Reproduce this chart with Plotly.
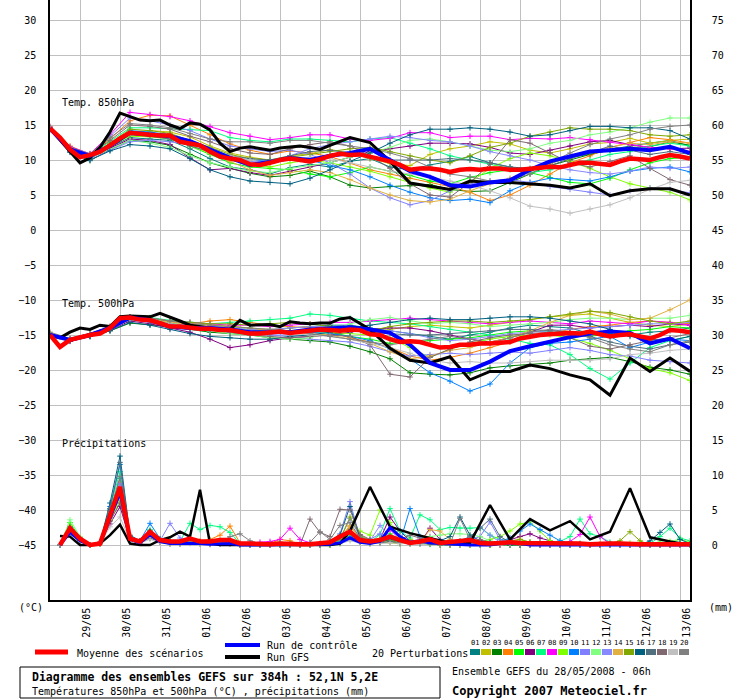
import plotly.graph_objects as go

# hours since run start (28/05/2008 06h)
H6 = list(range(0, 385, 6))
H12 = list(range(0, 385, 12))
H6P = list(range(6, 385, 6))
GFS_H = list(range(0, 181, 6)) + list(range(192, 385, 12))
GFS_HP = list(range(6, 181, 6)) + list(range(192, 385, 12))

DAY_TICKS = list(range(18, 385, 24))
DAY_LABELS = ["29/05", "30/05", "31/05", "01/06", "02/06", "03/06", "04/06", "05/06",
              "06/06", "07/06", "08/06", "09/06", "10/06", "11/06", "12/06", "13/06"]

PERT_COLORS = ["#008080", "#c0c000", "#008000", "#ff8000", "#00ff00", "#800080", "#00ff80",
               "#ff00ff", "#80ff00", "#0080ff", "#8080ff", "#80ff80", "#8888ff", "#e0b040",
               "#80a800", "#006080", "#507080", "#806870", "#c0c0c0", "#808080"]

# ensemble mean (6h)
MEAN_850 = [14.5, 13.2, 11.5, 10.4, 10.7, 11.2, 12.1, 13.1, 13.9, 13.7, 13.6, 13.5, 13.5,
            12.6, 12.4, 12.1, 11.2, 10.5, 10.2, 10.0, 9.4, 9.3, 9.6, 10.0, 10.2, 10.0,
            9.8, 10.1, 10.6, 10.9, 10.7, 10.8, 10.5, 10.1, 9.8, 9.3, 8.6, 8.8, 8.8, 8.6,
            8.3, 8.6, 8.7, 8.6, 8.8, 8.8, 8.6, 8.6, 8.7, 8.95, 9.05, 8.95, 9.3, 9.6, 9.6,
            9.5, 9.3, 9.8, 10.2, 10.1, 10.0, 10.4, 10.7, 10.5, 10.2]
MEAN_500 = [-15.0, -16.7, -15.7, -15.3, -15.0, -14.8, -14.0, -12.6, -12.5, -12.8, -12.9,
            -13.3, -13.8, -13.8, -14.0, -14.1, -14.1, -14.3, -14.3, -14.5, -14.8, -14.8,
            -14.7, -14.5, -14.7, -14.5, -14.3, -14.2, -14.3, -14.4, -14.2, -14.3, -14.9,
            -15.0, -15.6, -16.0, -15.9, -16.0, -16.4, -16.8, -16.7, -16.4, -16.4, -16.2,
            -16.2, -16.1, -16.0, -15.5, -15.2, -15.0, -14.9, -14.8, -14.7, -14.8, -14.5,
            -14.9, -15.2, -15.0, -14.9, -15.2, -15.5, -15.0, -14.3, -14.4, -14.6]
MEAN_PR = [0, 2.4, 0.9, 0, 0.2, 4.5, 8.3, 0.9, 0.5, 1.9, 0.7, 0.5, 0.5, 0.9, 0.5, 0.5,
           0.7, 0.7, 0.2, 0.2, 0.1, 0.1, 0.2, 0.1, 0.1, 0.1, 0.2, 0.4, 1.2, 1.9, 0.7, 0.5,
           0.7, 1.2, 0.7, 0.3, 0.5, 0.8, 0.3, 0.4, 0.5, 0.7, 0.3, 0.2, 0.3, 0.4, 0.3, 0.3,
           0.2, 0.2, 0.2, 0.3, 0.2, 0.1, 0.2, 0.2, 0.2, 0.1, 0.1, 0.1, 0.1, 0.2, 0.1, 0.1]

# control run (12h temps, 6h precip)
CTRL_850 = [14.5, 11.5, 10.6, 12.0, 13.9, 13.7, 13.4, 12.7, 11.5, 10.3, 9.3, 9.7, 10.3,
            10.0, 10.6, 11.0, 11.6, 10.0, 8.4, 7.6, 6.4, 6.2, 6.8, 7.1, 8.6, 9.8, 10.5,
            11.2, 11.4, 11.6, 11.4, 11.9, 11.0]
CTRL_500 = [-15.0, -15.7, -15.0, -14.0, -12.5, -12.9, -13.8, -14.0, -14.0, -14.2, -14.6,
            -14.6, -14.6, -14.2, -14.0, -13.9, -14.2, -14.7, -16.4, -19.0, -20.0, -20.0,
            -18.8, -17.3, -16.6, -15.9, -15.3, -14.8, -14.5, -14.7, -16.2, -15.5, -16.9]
CTRL_PR = [0, 1.8, 0.6, 0, 0.2, 4.0, 7.5, 0.8, 0.3, 1.5, 0.5, 0.2, 0.2, 0.3, 0.2, 0.1,
           0.2, 0.2, 0, 0, 0, 0, 0, 0, 0, 0, 0, 0.1, 0.3, 1.0, 0.4, 0.2,
           0.5, 2.5, 1.2, 0.4, 0.6, 0.3, 0.2, 0.1, 0, 0, 0, 0, 0.2, 0.3, 0.2, 0,
           0, 0, 0, 0, 0, 0, 0, 0, 0, 0, 0, 0, 0, 0, 0, 0]

# GFS operational run (6h to 180h, then 12h)
GFS_850 = [14.5, 12.8, 11.2, 9.6, 10.3, 11.8, 14.0, 16.7, 16.2, 15.7, 15.6, 15.7, 15.0,
           14.5, 15.3, 15.1, 14.3, 12.4, 11.2, 11.7, 11.9, 11.7, 11.4, 11.7, 11.9, 12.0,
           11.8, 11.5, 12.1, 12.6, 13.2,
           12.5, 9.8, 6.7, 6.2, 5.8, 7.0, 6.8, 6.8, 6.6, 6.4, 6.0, 6.6, 4.9, 5.6, 5.9, 5.9, 5.0]
GFS_500 = [-15.0, -15.4, -14.6, -14.0, -14.2, -13.6, -13.8, -12.4, -12.3, -12.3, -12.4,
           -11.9, -12.4, -13.0, -13.6, -13.8, -14.0, -14.2, -14.2, -12.9, -13.6, -13.5,
           -13.5, -13.8, -13.1, -13.3, -13.4, -13.3, -13.3, -12.7, -12.5,
           -14.2, -16.9, -18.6, -19.0, -18.1, -21.4, -20.2, -20.2, -19.3, -19.8, -20.7,
           -21.4, -23.6, -18.3, -20.2, -18.3, -20.2]
GFS_PR = [1.3, 1.2, 0, 0, 0.2, 1.4, 2.9, 0.2, 0, 0, 0.7, 1.1, 1.9, 1.2, 7.9, 0.2, 0, 0,
          0, 0, 0, 0, 0, 0, 0, 0, 0, 0, 0.2, 2.0,
          8.3, 2.6, 1.7, 1.0, 0.3, 0.3, 5.7, 0.8, 3.7, 2.1, 3.4, 0.8, 1.9, 8.1, 1.1, 0.5, 0]

# 20 perturbations, 850 hPa (12h)
PERT_850 = [
    [14.5, 11.4, 10.5, 11.8, 13.2, 13.0, 12.8, 11.6, 10.2, 9.0, 8.6, 8.0, 8.9, 9.4, 9.0, 9.8, 10.2, 9.0, 8.6, 9.3, 9.8, 10.5, 9.6, 9.0, 8.8, 9.5, 10.4, 10.8, 11.5, 12.0, 12.4, 12.8, 12.0],
    [14.6, 11.8, 10.4, 12.3, 14.0, 14.2, 14.0, 13.3, 12.0, 11.0, 10.4, 10.0, 10.6, 10.9, 11.5, 11.0, 10.2, 9.5, 9.2, 10.8, 11.6, 12.0, 12.6, 12.3, 11.4, 11.0, 11.6, 12.3, 12.5, 13.1, 12.4, 12.8, 13.0],
    [14.4, 11.2, 9.9, 11.5, 12.8, 12.6, 12.1, 10.8, 9.6, 8.8, 8.1, 7.6, 7.8, 8.4, 7.6, 6.4, 6.0, 6.2, 6.3, 6.5, 5.8, 5.5, 5.6, 6.8, 8.0, 9.2, 10.0, 10.8, 11.4, 11.8, 11.9, 12.6, 12.1],
    [14.8, 12.0, 10.8, 13.0, 15.6, 16.4, 16.3, 15.0, 13.6, 12.3, 11.4, 10.8, 11.3, 11.0, 10.5, 9.6, 8.6, 8.0, 7.4, 6.8, 6.2, 5.4, 4.2, 5.0, 6.4, 8.0, 9.6, 10.6, 11.8, 12.5, 13.2, 12.9, 12.4],
    [14.5, 11.6, 10.6, 12.0, 13.6, 13.5, 13.2, 12.0, 10.8, 9.6, 9.0, 8.8, 8.6, 8.0, 7.6, 8.2, 9.0, 8.4, 7.8, 7.0, 6.6, 7.5, 8.2, 8.6, 8.2, 7.5, 6.8, 6.6, 7.4, 8.6, 9.6, 10.2, 10.4],
    [14.4, 11.3, 10.2, 11.7, 13.0, 12.8, 12.2, 10.3, 8.6, 8.8, 8.2, 7.8, 8.4, 9.0, 9.6, 10.4, 11.2, 11.6, 12.0, 12.4, 12.4, 12.3, 11.8, 11.0, 10.8, 11.4, 12.0, 12.6, 12.8, 12.2, 11.8, 11.6, 11.7],
    [14.6, 11.7, 10.7, 12.6, 14.6, 14.6, 14.5, 14.4, 14.2, 13.2, 12.8, 12.6, 13.0, 13.0, 12.8, 12.6, 13.0, 13.2, 12.4, 11.6, 10.6, 10.0, 9.4, 8.8, 8.2, 8.6, 9.4, 10.0, 10.8, 11.2, 12.0, 12.4, 12.0],
    [14.7, 11.9, 10.9, 13.6, 16.8, 16.5, 16.2, 15.6, 14.8, 13.9, 13.4, 12.9, 13.2, 13.6, 13.6, 13.0, 12.8, 13.1, 13.9, 13.9, 13.2, 13.4, 13.4, 12.9, 13.1, 13.0, 13.2, 12.9, 12.6, 12.2, 11.8, 11.6, 11.2],
    [14.5, 11.5, 10.4, 11.9, 13.4, 13.3, 13.0, 12.0, 11.0, 10.0, 9.4, 9.0, 9.6, 10.0, 9.6, 9.0, 8.4, 7.6, 6.8, 6.0, 5.4, 6.8, 8.8, 10.2, 11.0, 10.6, 9.8, 8.8, 7.6, 6.6, 6.0, 5.4, 4.3],
    [14.5, 11.5, 10.5, 12.2, 14.2, 14.0, 13.6, 12.6, 11.6, 10.6, 10.0, 9.8, 10.4, 10.0, 9.2, 8.6, 7.6, 6.4, 5.4, 4.6, 4.2, 4.4, 3.9, 5.6, 6.8, 7.4, 7.2, 7.0, 7.6, 8.4, 8.8, 9.0, 8.3],
    [14.6, 11.6, 10.6, 13.4, 16.0, 15.6, 15.0, 14.2, 13.0, 12.0, 11.6, 11.2, 11.4, 10.8, 9.6, 8.0, 6.0, 4.6, 3.6, 4.2, 5.6, 6.6, 7.0, 7.2, 6.8, 6.2, 5.8, 5.4, 5.0, 5.6, 6.0, 5.8, 5.3],
    [14.5, 11.4, 10.3, 11.6, 12.8, 12.4, 11.8, 10.6, 9.6, 9.0, 8.4, 8.2, 8.8, 9.2, 9.6, 10.4, 11.0, 11.8, 12.8, 13.0, 12.6, 12.0, 11.4, 11.2, 11.6, 12.4, 12.8, 13.6, 14.0, 14.6, 15.4, 16.0, 16.0],
    [14.3, 11.2, 10.0, 11.4, 12.6, 12.8, 12.6, 12.2, 11.4, 10.4, 9.8, 9.8, 10.6, 11.6, 12.2, 12.6, 13.0, 13.4, 13.2, 12.8, 12.6, 12.0, 11.2, 10.6, 10.0, 9.2, 8.6, 8.2, 8.0, 8.4, 9.0, 8.8, 9.0],
    [14.5, 11.5, 10.5, 12.0, 13.8, 13.6, 13.2, 12.2, 11.0, 9.8, 8.6, 7.8, 8.2, 8.6, 8.2, 7.2, 6.0, 5.0, 4.2, 4.0, 4.4, 5.6, 6.6, 7.4, 8.4, 9.4, 10.6, 11.2, 11.8, 12.4, 12.2, 12.6, 12.4],
    [14.5, 11.6, 10.6, 12.4, 14.4, 14.2, 13.8, 12.8, 11.8, 10.8, 10.2, 10.0, 10.4, 10.8, 11.2, 11.6, 11.8, 11.2, 10.6, 10.0, 9.6, 10.6, 11.8, 12.4, 13.4, 14.0, 14.6, 14.4, 14.4, 14.2, 13.6, 13.4, 13.6],
    [14.4, 11.1, 10.0, 11.3, 12.2, 12.0, 11.6, 10.2, 8.6, 7.6, 7.0, 6.8, 6.6, 7.4, 8.6, 9.8, 11.0, 12.4, 13.6, 14.4, 14.4, 14.6, 14.4, 14.0, 13.4, 13.6, 14.2, 14.8, 14.8, 14.6, 14.6, 14.2, 13.0],
    [14.5, 11.5, 10.5, 12.1, 13.6, 13.4, 13.0, 12.0, 11.2, 10.6, 10.2, 10.0, 10.6, 11.2, 11.4, 11.0, 10.4, 10.0, 10.0, 10.0, 10.2, 10.0, 9.6, 9.0, 8.6, 9.2, 10.2, 11.0, 12.0, 11.4, 10.8, 11.2, 10.8],
    [14.6, 11.7, 10.8, 12.8, 15.0, 14.8, 14.4, 13.4, 12.6, 11.6, 11.0, 10.8, 11.6, 12.2, 12.6, 12.0, 10.6, 8.8, 6.6, 5.0, 4.7, 6.8, 9.4, 12.9, 12.4, 11.0, 9.6, 9.0, 9.8, 10.6, 8.8, 7.2, 6.4],
    [14.5, 11.5, 10.4, 12.0, 13.8, 13.6, 13.4, 12.6, 11.6, 10.6, 10.0, 9.6, 10.0, 10.4, 10.2, 9.6, 9.0, 8.4, 8.0, 7.6, 7.0, 6.4, 5.6, 4.6, 3.4, 3.0, 2.4, 3.0, 3.6, 4.6, 5.8, 6.8, 7.1],
    [14.6, 11.8, 10.9, 13.2, 15.2, 15.0, 14.6, 13.8, 13.0, 12.6, 12.6, 12.4, 12.8, 12.8, 12.4, 12.0, 11.6, 11.0, 10.2, 9.0, 8.0, 7.6, 7.0, 7.2, 8.0, 9.6, 11.0, 12.2, 13.0, 13.6, 14.4, 14.8, 15.0],
]

# 20 perturbations, 500 hPa (12h)
PERT_500 = [
    [-15.0, -15.6, -15.0, -14.0, -12.6, -13.0, -13.6, -14.0, -14.0, -14.2, -14.4, -14.4, -14.0, -13.8, -13.6, -13.6, -14.0, -14.4, -14.8, -15.2, -15.6, -15.0, -14.6, -14.0, -13.6, -13.8, -14.0, -14.8, -15.2, -15.0, -14.6, -14.4, -14.0],
    [-15.0, -15.8, -15.0, -14.0, -12.5, -12.8, -13.4, -13.6, -13.5, -13.8, -14.0, -14.2, -14.0, -13.8, -14.0, -14.4, -14.6, -14.2, -13.8, -13.6, -13.8, -14.0, -13.6, -13.2, -12.8, -12.4, -12.2, -12.0, -12.6, -13.2, -13.6, -13.8, -13.4],
    [-14.9, -15.8, -15.2, -14.4, -13.3, -13.5, -13.8, -14.2, -14.6, -14.8, -15.0, -15.4, -15.6, -15.8, -16.0, -16.6, -17.4, -18.4, -20.4, -20.6, -20.7, -20.4, -19.7, -19.4, -19.2, -19.0, -18.6, -18.4, -18.2, -18.8, -19.6, -20.0, -20.6],
    [-15.0, -15.6, -14.8, -13.8, -12.4, -12.6, -13.2, -13.4, -13.0, -12.8, -13.2, -13.6, -13.8, -14.0, -14.6, -15.4, -16.0, -16.8, -18.0, -18.6, -18.2, -17.6, -16.8, -16.0, -15.2, -14.8, -14.2, -13.8, -13.6, -13.2, -13.0, -13.2, -13.4],
    [-15.0, -15.7, -15.0, -14.0, -12.6, -12.9, -13.6, -13.8, -14.0, -14.2, -14.4, -14.6, -14.4, -14.2, -14.6, -15.2, -15.6, -16.2, -16.0, -15.8, -15.6, -15.4, -15.0, -14.6, -14.4, -14.6, -15.0, -15.2, -14.8, -14.4, -14.2, -13.8, -14.0],
    [-15.0, -15.9, -15.2, -14.3, -13.0, -13.4, -14.0, -14.6, -15.6, -16.8, -16.4, -15.8, -15.4, -15.2, -15.0, -14.6, -14.2, -14.0, -14.0, -14.4, -15.0, -15.6, -16.0, -15.4, -14.6, -13.6, -13.6, -14.0, -13.8, -13.6, -13.8, -13.4, -13.6],
    [-15.0, -15.6, -14.9, -13.8, -12.4, -12.5, -12.9, -13.2, -13.4, -13.2, -13.0, -12.8, -12.6, -12.0, -12.2, -12.6, -13.0, -13.2, -13.4, -13.8, -14.2, -14.6, -15.0, -15.6, -16.2, -16.4, -17.8, -19.8, -21.3, -19.0, -16.8, -15.8, -15.2],
    [-15.0, -15.6, -14.9, -13.8, -12.4, -12.6, -13.0, -13.2, -13.4, -13.6, -13.6, -13.8, -13.6, -13.4, -13.2, -13.2, -13.0, -12.8, -12.6, -12.8, -13.0, -13.2, -13.4, -13.2, -13.0, -13.2, -13.4, -13.0, -13.2, -13.4, -13.0, -13.2, -13.6],
    [-15.0, -15.7, -15.0, -14.0, -12.6, -12.8, -13.4, -13.6, -13.8, -14.0, -14.2, -14.4, -14.4, -14.6, -14.6, -14.8, -15.0, -15.4, -16.8, -18.2, -17.0, -16.2, -15.6, -15.2, -15.0, -15.0, -15.4, -16.2, -17.2, -18.4, -19.8, -20.4, -21.5],
    [-15.0, -15.7, -15.0, -14.1, -12.7, -13.0, -13.6, -14.0, -14.2, -14.4, -14.6, -14.8, -14.6, -14.6, -14.8, -15.2, -15.8, -17.0, -18.4, -20.4, -21.6, -23.0, -22.0, -19.0, -16.8, -16.2, -16.0, -15.6, -15.2, -16.8, -16.0, -15.6, -15.8],
    [-15.0, -15.8, -15.1, -14.2, -12.8, -13.2, -13.8, -14.2, -14.4, -14.6, -14.8, -15.0, -15.2, -15.6, -15.8, -16.0, -16.6, -17.4, -18.0, -17.8, -17.6, -17.8, -17.6, -17.4, -17.6, -17.2, -16.8, -17.2, -17.8, -18.0, -18.6, -18.8, -19.0],
    [-15.0, -15.6, -14.9, -13.9, -12.5, -12.7, -13.2, -13.8, -14.4, -14.8, -15.0, -15.4, -15.6, -15.4, -14.6, -13.4, -12.8, -12.5, -13.0, -13.4, -13.2, -13.4, -13.8, -13.6, -13.4, -13.2, -12.8, -12.6, -12.6, -12.8, -12.6, -12.6, -12.2],
    [-15.0, -15.7, -15.0, -14.0, -12.7, -12.9, -13.4, -13.6, -13.8, -14.0, -14.2, -14.2, -14.0, -13.8, -13.8, -14.0, -14.2, -14.4, -14.8, -15.4, -15.8, -15.6, -15.2, -14.8, -14.6, -14.4, -14.2, -14.0, -13.8, -13.6, -13.4, -13.4, -13.2],
    [-15.0, -15.7, -15.0, -14.0, -12.6, -12.8, -13.2, -13.4, -13.6, -13.8, -14.0, -14.4, -14.6, -14.8, -15.0, -15.6, -16.2, -17.4, -18.4, -18.0, -17.2, -16.8, -16.0, -15.4, -14.4, -13.2, -12.2, -11.6, -12.0, -12.8, -12.6, -11.4, -10.0],
    [-15.0, -15.6, -14.9, -13.9, -12.5, -12.6, -13.0, -13.2, -13.4, -13.4, -13.6, -13.4, -13.2, -13.4, -13.8, -14.2, -14.4, -13.8, -13.4, -13.2, -13.0, -13.0, -13.2, -13.0, -12.8, -12.4, -12.0, -11.6, -11.8, -12.4, -13.0, -13.4, -13.0],
    [-15.0, -15.8, -15.2, -14.4, -13.2, -13.6, -14.2, -14.8, -15.2, -15.4, -15.6, -15.6, -15.2, -15.0, -14.6, -14.0, -13.6, -13.2, -12.8, -12.6, -12.8, -12.8, -12.6, -12.4, -12.4, -12.6, -13.0, -13.4, -14.2, -15.2, -15.6, -15.8, -15.2],
    [-15.0, -15.7, -15.0, -14.1, -12.8, -13.0, -13.6, -14.0, -14.2, -14.4, -14.6, -14.6, -14.4, -14.2, -14.2, -14.4, -14.6, -14.8, -15.0, -15.0, -14.8, -14.6, -14.4, -14.2, -14.2, -14.4, -14.6, -15.2, -16.0, -16.6, -17.0, -16.4, -16.0],
    [-14.8, -15.6, -14.9, -13.9, -12.6, -12.8, -13.4, -13.8, -14.2, -14.6, -15.0, -15.2, -15.4, -15.2, -15.0, -15.2, -16.4, -20.6, -21.0, -18.2, -17.0, -16.0, -15.4, -15.0, -14.8, -14.6, -15.4, -16.6, -17.0, -16.4, -15.8, -15.4, -14.8],
    [-15.0, -15.6, -14.9, -13.9, -12.6, -12.8, -13.4, -13.8, -14.0, -14.2, -14.4, -14.6, -14.8, -15.0, -15.2, -15.6, -16.2, -16.8, -17.6, -18.6, -19.0, -18.8, -19.0, -19.0, -18.8, -18.6, -18.6, -18.6, -18.4, -17.8, -17.6, -17.2, -17.0],
    [-14.6, -15.5, -14.8, -13.8, -12.5, -12.6, -13.0, -13.4, -13.6, -13.8, -14.0, -14.2, -14.4, -14.8, -15.2, -15.6, -16.0, -16.4, -16.0, -15.6, -15.2, -15.6, -16.2, -15.4, -14.6, -14.2, -14.6, -15.4, -16.4, -17.0, -17.4, -16.4, -15.8],
]

# 20 perturbations, 6h precipitation (mm)
PERT_PR = [
    [0, 2.0, 0.6, 0, 0.3, 5.0, 9.5, 1.0, 0.4, 1.5, 0.5, 0.3, 0.2, 0.6, 0.3, 0.2, 0.4, 0.6, 0, 0, 0, 0, 0.2, 0, 0, 0, 0, 0.2, 0.6, 2.2, 0.8, 0.3, 0.4, 0.8, 0.5, 0.2, 0.4, 0.6, 0.2, 0, 0.2, 0.4, 0, 0, 0.2, 0, 0, 0, 0, 0, 0, 0.2, 0, 0, 0, 0, 0, 0, 0, 0, 0, 0, 0, 0],
    [0, 2.2, 0.8, 0, 0.2, 3.5, 6.0, 0.8, 0.5, 1.2, 0.4, 0.2, 0.2, 0.5, 0.4, 0.2, 0.6, 0.4, 0, 0, 0, 0, 0, 0, 0, 0, 0.2, 0.3, 0.4, 1.6, 0.6, 0.2, 0.5, 0.3, 0.2, 0.8, 0.4, 0.2, 0.1, 0, 0, 0.3, 0.6, 0.2, 0, 0.3, 0.8, 0.4, 0.2, 0.1, 0, 0, 0, 0, 0, 0, 0, 0, 0, 0, 0, 0, 0, 0],
    [0, 2.6, 0.9, 0, 0.2, 4.2, 7.8, 1.1, 0.3, 1.0, 0.6, 0.4, 0.3, 0.5, 0.2, 0.1, 0.2, 0.3, 0, 0, 0, 0, 0, 0, 0, 0, 0, 0, 0.3, 0.9, 0.4, 0.2, 0.3, 0.5, 0.2, 0.3, 0.2, 0.1, 0, 0, 0, 0, 0.1, 0, 0, 0, 0, 0.2, 0, 0, 0, 0, 0, 0, 0, 0, 0, 0, 0, 0, 0, 0, 0, 0],
    [0, 2.3, 1.0, 0, 0.3, 4.8, 9.0, 0.9, 0.6, 2.0, 0.8, 0.5, 0.4, 0.7, 0.6, 0.8, 1.4, 2.7, 0.3, 0, 0, 0.2, 0.8, 0.6, 0, 0, 0, 0.4, 1.0, 2.6, 1.2, 0.4, 0.3, 0.6, 0.4, 0.2, 0.3, 0.4, 0.2, 0.1, 0.3, 0.6, 0.4, 0.2, 0, 0.2, 0.4, 0.2, 0, 0.2, 0, 0, 0, 0, 0.2, 0, 0, 0, 0, 0, 0, 0, 0, 0],
    [0, 3.2, 1.0, 0, 0.2, 4.0, 7.0, 1.2, 0.4, 1.6, 0.6, 0.3, 0.4, 0.5, 0.3, 0.2, 0.3, 0.4, 0, 0, 0, 0, 0, 0, 0, 0, 0, 0, 0.2, 1.2, 0.6, 0.3, 0.8, 1.6, 0.8, 0.3, 0.4, 0.2, 0.1, 0, 0.2, 0.3, 0.1, 0, 0.2, 0.5, 0.3, 0.2, 0.2, 0, 0, 0, 0.2, 0, 0, 0, 0, 0, 0, 0.2, 0.4, 0, 0, 0],
    [0, 1.8, 0.6, 0, 0.2, 3.0, 5.5, 0.7, 0.4, 1.2, 0.5, 0.2, 0.2, 0.4, 0.3, 0.2, 0.3, 0.2, 0, 0, 0, 0, 0, 0, 0, 0, 0, 0.2, 0.3, 1.0, 0.5, 0.3, 0.8, 4.0, 2.0, 0.6, 0.3, 2.4, 0.8, 0.2, 0.3, 0.3, 0.2, 0.1, 0.3, 0.8, 1.2, 1.6, 1.0, 0.6, 0.2, 0, 0, 0, 0, 0, 0, 0, 0, 0, 0, 0, 0, 0],
    [0, 2.4, 0.8, 0, 0.3, 5.2, 10.5, 1.0, 0.5, 2.2, 0.8, 0.6, 0.5, 3.1, 2.2, 2.8, 2.6, 1.8, 0.2, 0, 0, 0.3, 0.4, 0.2, 0, 0, 0, 0.3, 0.5, 1.6, 0.8, 0.4, 1.5, 5.2, 2.0, 1.0, 4.3, 3.6, 2.2, 2.5, 2.4, 2.4, 2.5, 1.4, 0.8, 0.6, 0.5, 0.4, 0.2, 0.3, 0.5, 1.2, 3.7, 1.6, 1.2, 0.4, 0.2, 0, 0.2, 0.2, 1.2, 2.4, 1.0, 0.6],
    [0, 2.2, 0.8, 0, 0.2, 4.6, 8.4, 0.9, 0.5, 1.8, 0.7, 0.4, 0.3, 0.6, 0.4, 0.3, 0.6, 0.8, 0.2, 0.2, 0.4, 0.5, 0.8, 2.4, 0.8, 0.3, 0, 0.3, 0.8, 1.8, 0.7, 0.3, 0.4, 2.2, 0.8, 0.3, 0.5, 1.2, 0.4, 0.2, 0.2, 0.3, 0.6, 0.2, 0, 0.2, 0.5, 0.3, 0.1, 0, 0, 0.5, 1.5, 4.0, 1.2, 0.2, 0, 0, 0, 0, 0, 0, 0, 0],
    [0, 2.8, 1.0, 0, 0.2, 3.6, 6.4, 1.0, 0.4, 1.4, 0.6, 0.3, 0.3, 0.5, 0.3, 0.2, 0.3, 0.3, 0, 0, 0, 0, 0, 0, 0, 0, 0, 0.2, 0.4, 1.4, 2.0, 1.4, 5.0, 3.2, 1.2, 0.6, 0.3, 0.2, 0.2, 0.1, 0.2, 0.3, 0.4, 0.8, 1.2, 2.0, 3.0, 3.3, 2.0, 0.6, 0.2, 0.1, 0.2, 0, 0, 0, 0, 0.3, 0.2, 0.1, 0.2, 0.5, 0.8, 0.4],
    [0, 2.5, 0.9, 0, 0.4, 5.5, 11.5, 1.2, 0.6, 3.1, 0.9, 0.4, 0.4, 0.6, 0.4, 0.3, 0.4, 0.5, 0, 0, 0, 0, 0, 0, 0, 0, 0, 0.2, 0.4, 1.2, 0.6, 0.3, 0.3, 1.0, 0.4, 5.2, 1.2, 0.6, 0.3, 0.2, 0.2, 0.4, 0.2, 0.3, 0.5, 1.0, 2.0, 3.0, 2.2, 1.4, 0.6, 0.3, 0.2, 0, 0, 0, 0, 0, 0, 0, 0, 0, 0, 0],
    [0, 2.0, 0.7, 0, 0.3, 4.4, 8.8, 1.0, 0.5, 1.4, 0.6, 3.1, 1.0, 0.5, 0.4, 0.2, 0.3, 0.4, 0, 0, 0, 0, 0, 0, 0, 0, 0.2, 0.4, 1.6, 6.2, 1.0, 0.8, 1.6, 1.0, 0.4, 0.3, 0.5, 0.4, 0.2, 0.1, 0.3, 0.8, 1.2, 3.3, 0.8, 0.4, 0.2, 0.1, 0, 0, 0, 0, 0, 0, 0, 0, 0, 0, 0, 0, 0, 0, 0, 0],
    [0, 3.6, 1.2, 0, 0.2, 3.8, 7.4, 1.0, 0.4, 1.5, 0.7, 0.4, 0.3, 0.6, 0.3, 0.2, 0.3, 0.4, 0, 0, 0, 0, 0, 0, 0, 0, 0, 0.2, 0.4, 2.0, 0.8, 0.4, 0.3, 0.6, 0.5, 0.3, 0.6, 1.2, 1.4, 1.6, 1.6, 1.5, 1.2, 0.6, 0.3, 0.2, 0.2, 0.3, 0.2, 0.1, 0, 0, 0, 0, 0, 0, 0, 0, 0, 0, 0.2, 0.5, 0.8, 0.3],
    [0, 2.1, 0.8, 0, 0.2, 3.8, 6.8, 0.8, 0.4, 1.1, 0.5, 0.3, 0.2, 0.4, 0.3, 0.2, 0.2, 0.3, 0, 0, 0, 0, 0, 0, 0, 0, 0, 0.3, 0.8, 3.8, 1.2, 0.6, 2.8, 1.2, 0.6, 0.3, 0.2, 0.4, 0.3, 0.2, 0.4, 1.0, 2.6, 1.4, 0.4, 0.2, 0.1, 0, 0, 0, 0, 0, 0, 0, 0, 0, 0, 0, 0, 0, 0, 0, 0, 0],
    [0, 2.2, 0.9, 0, 0.3, 4.0, 7.2, 0.9, 0.4, 1.3, 0.6, 0.3, 0.3, 0.4, 0.3, 0.2, 0.3, 0.4, 0, 0, 0, 0, 0, 0, 0, 0, 0.2, 0.6, 1.0, 2.8, 1.0, 0.5, 0.4, 0.6, 0.4, 0.2, 0.3, 2.2, 2.0, 0.8, 0.3, 0.2, 0.1, 0, 0.2, 0.4, 0.8, 0.3, 0.1, 0, 0, 0, 0, 0, 0, 0, 0, 0, 0, 0, 0, 0, 0, 0],
    [0, 2.4, 0.8, 0, 0.2, 4.4, 8.0, 1.0, 0.5, 1.6, 0.6, 0.3, 0.3, 0.5, 0.4, 0.2, 0.2, 0.3, 0, 0, 0, 0, 0, 0, 0, 0, 0, 0.2, 0.8, 4.0, 1.4, 0.6, 0.8, 0.6, 0.4, 0.2, 0.3, 0.2, 0.1, 0, 0, 0, 0.1, 0, 0.2, 0.6, 0.8, 0.4, 0.2, 0, 0, 0, 0, 0, 0, 0.2, 0.6, 1.9, 0.6, 0, 0, 0.3, 0.2, 0],
    [0, 2.0, 0.7, 0, 0.4, 6.0, 12.7, 1.4, 0.6, 2.0, 0.8, 0.4, 0.3, 0.6, 0.4, 0.3, 0.4, 0.5, 0, 0, 0, 0, 0, 0, 0, 0, 0, 0.3, 1.4, 5.5, 1.0, 0.6, 0.4, 0.8, 0.5, 0.3, 0.2, 0.3, 0.6, 1.2, 4.0, 1.4, 0.6, 0.3, 0.2, 0.4, 0.3, 0.2, 0.1, 0, 0, 0, 0, 0, 0, 0, 0, 0, 0, 0.6, 1.8, 3.0, 0.8, 0.2],
    [0, 1.8, 0.6, 0, 0.3, 5.2, 11.8, 1.3, 0.5, 1.8, 0.6, 0.3, 0.3, 0.5, 0.4, 0.2, 0.3, 0.3, 0, 0, 0, 0, 0, 0, 0, 0, 0, 0.2, 0.4, 1.8, 0.8, 0.4, 0.3, 0.5, 0.3, 0.2, 0.3, 0.4, 0.2, 0.3, 0.6, 1.2, 2.4, 3.7, 1.2, 0.4, 0.2, 0.1, 0, 0, 0, 0, 0, 0, 0, 0, 0, 0, 0, 0, 0, 0, 0, 0],
    [0, 1.6, 0.5, 0, 0.2, 3.4, 6.0, 0.8, 0.3, 1.0, 0.4, 0.2, 0.2, 0.3, 0.2, 0.1, 0.2, 0.2, 0, 0, 0, 0, 0, 0, 0, 3.7, 1.8, 1.2, 5.1, 5.0, 1.5, 0.8, 0.6, 1.2, 0.8, 1.4, 1.0, 0.4, 0.2, 0.1, 0.3, 0.6, 0.8, 0.4, 0.2, 0.1, 0, 0, 0, 0, 0, 0, 0, 0, 0, 0, 0, 0, 0, 0, 0, 0, 0, 0],
    [0, 1.5, 0.5, 0, 0.2, 2.6, 4.0, 0.6, 0.3, 0.8, 0.3, 0.2, 0.1, 0.2, 0.1, 0.1, 0.1, 0.2, 0, 0, 0, 0, 0, 0, 0, 0, 0, 0.1, 0.2, 0.6, 0.3, 0.2, 0.2, 0.3, 0.2, 0.1, 0.1, 0.2, 0.1, 0, 0, 0.1, 0.2, 0.1, 0, 0.2, 0.3, 0.1, 0, 0, 0, 0, 0, 0, 0, 0, 0, 0, 0, 0, 0, 0, 0, 0],
    [0, 2.6, 1.0, 0, 0.3, 4.6, 9.8, 1.1, 0.5, 1.7, 0.7, 0.4, 0.3, 0.5, 0.4, 0.3, 0.4, 1.2, 1.6, 0.6, 0.2, 0.2, 0.3, 0.2, 0, 0.4, 1.9, 0.8, 2.8, 3.2, 1.0, 0.5, 0.4, 1.0, 0.6, 0.3, 0.3, 0.4, 0.2, 0.1, 3.8, 0.8, 0.4, 0.2, 0.2, 0.3, 0.2, 0.1, 0, 0, 0, 0, 0, 0, 0, 0, 0, 0, 0, 0, 0, 0, 0, 0],
]

MONO = "DejaVu Sans Mono"

# pixel -> paper helpers (plot area is x 50..690, y 0..600)
def px(x):
    return (x - 50) / 640.0

def py(y):
    return (600 - y) / 600.0

fig = go.Figure()

def pert(x, y, c, axis):
    fig.add_trace(go.Scatter(x=x, y=y, mode="lines+markers", yaxis=axis,
                             line=dict(color=c, width=1),
                             marker=dict(symbol="cross-thin", size=4, line=dict(color=c, width=1)),
                             showlegend=False, hoverinfo="skip"))

for i in range(20):
    c = PERT_COLORS[i]
    pert(H12, PERT_850[i], c, "y")
    pert(H12, PERT_500[i], c, "y")
    pert(H6P, PERT_PR[i], c, "y2")

def thick(x, y, c, w, axis):
    fig.add_trace(go.Scatter(x=x, y=y, mode="lines", yaxis=axis,
                             line=dict(color=c, width=w),
                             showlegend=False, hoverinfo="skip"))

thick(GFS_H, GFS_850, "black", 3, "y")
thick(GFS_H, GFS_500, "black", 3, "y")
thick(GFS_HP, GFS_PR, "black", 2.5, "y2")
thick(H12, CTRL_850, "#0000ff", 4, "y")
thick(H12, CTRL_500, "#0000ff", 4, "y")
thick(H6P, CTRL_PR, "#0000ff", 3, "y2")
thick(H6, MEAN_850, "#ff0000", 4.5, "y")
thick(H6, MEAN_500, "#ff0000", 4.5, "y")
thick(H6P, MEAN_PR, "#ff0000", 4.5, "y2")

y_lo = -45 - 55 / 7.0
y_hi = 30 + 20 / 7.0

fig.update_layout(
    width=740, height=700,
    margin=dict(l=50, r=50, t=0, b=100),
    paper_bgcolor="white", plot_bgcolor="white",
    font=dict(family=MONO, size=10, color="black"),
    xaxis=dict(range=[0, 384], tickvals=DAY_TICKS, ticktext=DAY_LABELS, tickangle=-90,
               ticklabelshift=7, ticklabelstandoff=2, ticks="",
               showgrid=True, gridcolor="#c0c0c0", gridwidth=1, zeroline=False,
               showline=True, linecolor="black", linewidth=1.5,
               tickfont=dict(family=MONO, size=10)),
    yaxis=dict(range=[y_lo, y_hi], tickvals=list(range(-45, 31, 5)), ticks="",
               ticklabelstandoff=10,
               showgrid=True, gridcolor="#c0c0c0", gridwidth=1, zeroline=False,
               showline=True, linecolor="black", linewidth=1.5,
               tickfont=dict(family=MONO, size=10)),
    yaxis2=dict(range=[y_lo + 45, y_hi + 45], tickvals=list(range(0, 76, 5)), ticks="",
                ticklabelstandoff=18,
                overlaying="y", side="right", showgrid=False, zeroline=False,
                showline=True, linecolor="black", linewidth=1.5,
                tickfont=dict(family=MONO, size=10)),
)

ann = []
def text(x, y, s, size=10, anchor="left", bold=False):
    if bold:
        s = "<b>" + s + "</b>"
    ann.append(dict(x=px(x), y=py(y), xref="paper", yref="paper", text=s, showarrow=False,
                    xanchor=anchor, yanchor="middle",
                    font=dict(family=MONO, size=size, color="black")))

text(60, 103, "Temp. 850hPa")
text(60, 304, "Temp. 500hPa")
text(60, 443, "Précipitations")
text(31, 607, "(°C)", anchor="center")
text(721, 607, "(mm)", anchor="center")

text(75, 653, "Moyenne des scénarios")
text(265, 645, "Run de contrôle")
text(265, 657, "Run GFS")
text(370, 653, "20 Perturbations")
text(30, 677, "Diagramme des ensembles GEFS sur 384h : 52,1N 5,2E", size=11.5, bold=True)
text(30, 691, "Températures 850hPa et 500hPa (°C) , précipitations (mm)")
text(450, 671, "Ensemble GEFS du 28/05/2008 - 06h")
text(450, 691, "Copyright 2007 Meteociel.fr", size=12, bold=True)

shapes = []
def hline(x0, x1, y, c, w):
    shapes.append(dict(type="line", xref="paper", yref="paper", x0=px(x0), x1=px(x1),
                       y0=py(y), y1=py(y), line=dict(color=c, width=w)))

hline(35, 68, 652, "#ff0000", 5)
hline(225, 260, 645, "#0000ff", 4)
hline(225, 260, 657, "black", 4)

for i, c in enumerate(PERT_COLORS):
    x0 = 470 + 11 * i
    shapes.append(dict(type="rect", xref="paper", yref="paper", x0=px(x0), x1=px(x0 + 10),
                       y0=py(655), y1=py(649), fillcolor=c, line=dict(width=0)))
    ann.append(dict(x=px(x0 + 5), y=py(643), xref="paper", yref="paper", text="%02d" % (i + 1),
                    showarrow=False, xanchor="center", yanchor="middle",
                    font=dict(family=MONO, size=7, color="black")))

shapes.append(dict(type="rect", xref="paper", yref="paper", x0=px(20), x1=px(440),
                   y0=py(698), y1=py(667), line=dict(color="black", width=1)))

fig.update_layout(annotations=ann, shapes=shapes)

# page body has a default 8px margin; drop it so the figure sits at the window corner
fig.write_html("out.html", config={"displayModeBar": False},
               post_script="document.body.style.margin='0';document.body.style.overflow='hidden';")
